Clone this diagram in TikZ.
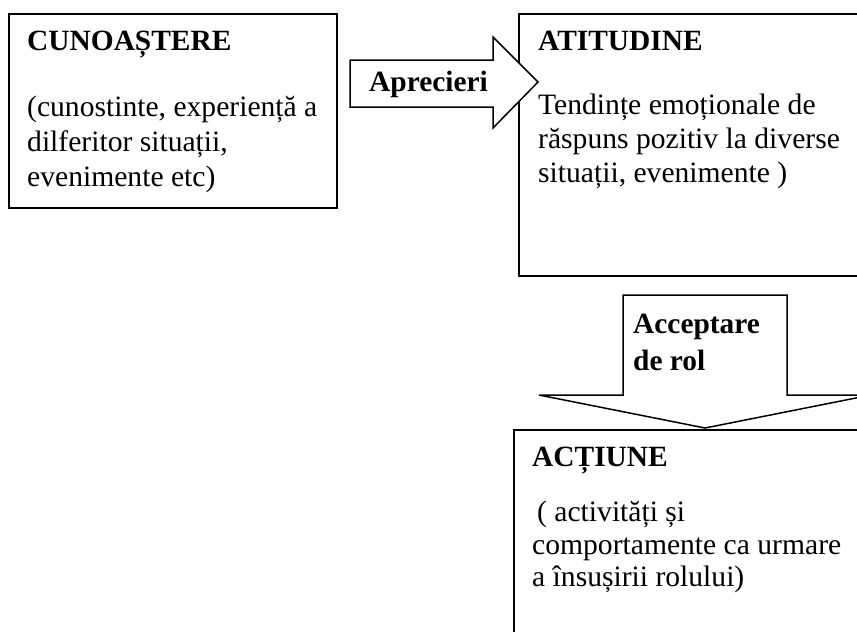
\documentclass[tikz,border=0pt]{standalone}
\usepackage{fontspec}
\setmainfont{Liberation Serif}
\usetikzlibrary{positioning}

\begin{document}
\begin{tikzpicture}[x=1pt,y=-1pt, box/.style={draw,line width=1.8pt,anchor=north west,inner sep=0pt}, blk/.style={draw,line width=1.5pt,fill=white,line join=miter}, hd/.style={font=\fontsize{29.4}{33}\selectfont\bfseries,anchor=base west,inner sep=0pt}, tx/.style={font=\fontsize{29.6}{33}\selectfont,anchor=base west,inner sep=0pt}]
      \useasboundingbox (0,0) rectangle (857,632);
      \clip (0,0) rectangle (857,632);

      \node[box,minimum width=328pt,minimum height=194pt] (cunoastere) at (8,13) {};
      \node[box,minimum width=360pt,minimum height=262pt] (atitudine) at (518,13) {};
      \node[box,minimum width=360pt,minimum height=230pt] (actiune) at (513,429) {};

      \node[hd] (c0) at (27,50) {CUNOAȘTERE};
      \node[tx] (c1) at (27,116) {(cunostinte, experiență a};
      \node[tx] (c2) at (27,151) {dilferitor situații,};
      \node[tx] (c3) at (27,186) {evenimente etc)};

      \node[hd] (t0) at (538,50) {ATITUDINE};
      \node[tx] (t1) at (538,114) {Tendințe emoționale de};
      \node[tx] (t2) at (538,148) {răspuns pozitiv la diverse};
      \node[tx] (t3) at (538,182) {situații, evenimente )};

      \node[hd] (a0) at (532,466) {ACȚIUNE};
      \node[tx] (a1) at (537,521) {( activități și};
      \node[tx] (a2) at (532,554) {comportamente ca urmare};
      \node[tx] (a3) at (532,586) {a însușirii rolului)};

      % block arrows
      \draw[blk] (350,60) -- (493,60) -- (493,37) -- (538,82) -- (493,128) -- (493,107) -- (350,107) -- cycle;
      \draw[blk] (623,295) -- (787,295) -- (787,395) -- (871,395) -- (705,428) -- (539,395) -- (623,395) -- cycle;

      \node[hd] (apr) at (369,91) {Aprecieri};
      \node[hd] (acc) at (633,333) {Acceptare};
      \node[hd] (rol) at (633,370) {de rol};
    \end{tikzpicture}
\end{document}
